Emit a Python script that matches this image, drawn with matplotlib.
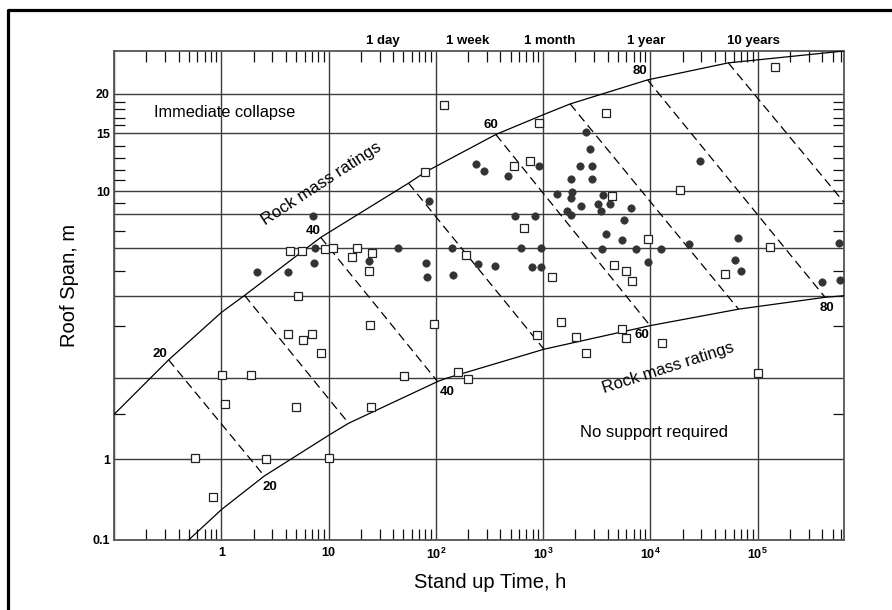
import numpy as np
import matplotlib
matplotlib.use("Agg")
import matplotlib.pyplot as plt
from matplotlib.ticker import FixedLocator, FixedFormatter, LogLocator, NullFormatter
from matplotlib.lines import Line2D

plt.rcParams['font.family'] = ['Liberation Sans', 'DejaVu Sans']
plt.rcParams['mathtext.fontset'] = 'custom'
plt.rcParams['mathtext.rm'] = 'Liberation Sans'
plt.rcParams['mathtext.bf'] = 'Liberation Sans:bold'
plt.rcParams['mathtext.default'] = 'regular'

# ---------------- data (stand-up time in hours, roof span in m) ----------------
circle_time = [2.14, 4.21, 7.16, 7.52, 7.4, 24.1, 44.3, 85.9, 81.4, 83.1, 143, 144, 236, 280, 249,
               354, 476, 910, 552, 850, 621, 960, 788, 960, 2510, 2750, 2220, 2870, 1820, 2870,
               1360, 1870, 1840, 2280, 1680, 1830, 3260, 3660, 3480, 4250, 6580, 5700, 3850, 5500,
               3550, 7380, 9580, 12500, 23100, 29100, 65500, 61700, 69700, 396000, 575000, 590000]
circle_span = [4.94, 4.94, 7.89, 6.02, 5.32, 5.40, 6.04, 9.18, 5.32, 4.74, 6.04, 4.81, 12.5, 11.9, 5.28,
               5.22, 11.4, 12.3, 7.89, 7.89, 6.02, 6.04, 5.15, 5.15, 15.1, 13.7, 12.3, 12.3, 11.1, 11.1,
               9.76, 9.91, 9.36, 8.73, 8.27, 7.96, 8.86, 9.67, 8.25, 8.91, 8.55, 7.66, 6.78, 6.47,
               5.99, 5.97, 5.38, 5.95, 6.22, 12.7, 6.59, 5.46, 5.00, 4.51, 6.27, 4.62]

square_time = [0.566, 0.830, 1.01, 1.90, 1.085, 2.63, 4.23, 7.00, 5.84, 8.46, 4.97, 4.42, 5.72, 9.26, 10,
               5.25, 11.1, 16.7, 18.6, 25.7, 23.8, 24.4, 24.8, 51.0, 80.2, 119, 96.6, 162, 201, 192,
               541, 753, 916, 659, 1220, 871, 1460, 2010, 2500, 3870, 4420, 4600, 5990, 6730, 5500,
               5990, 9600, 12800, 18800, 50100, 132000, 101000, 146000]
square_span = [1.01, 0.335, 2.05, 2.05, 1.62, 0.994, 2.82, 2.82, 2.69, 2.42, 1.58, 5.88, 5.88, 5.98, 1.01,
               3.98, 6, 5.58, 6, 5.79, 5, 3.03, 1.58, 2.03, 11.8, 18.6, 3.05, 2.09, 1.98, 5.69,
               12.3, 12.7, 16.3, 7.14, 4.73, 2.79, 3.13, 2.75, 2.42, 17.6, 9.54, 5.23, 5, 4.56, 2.94,
               2.74, 6.51, 2.62, 10.1, 4.85, 6.05, 2.08, 24.7]

# boundary curves
upper_time = [0.101, 0.323, 1, 1.65, 8.46, 55.7, 80.2, 363, 1010, 1790, 9440, 53400, 640000]
upper_span = [1.5, 2.3, 3.41, 4.01, 6.6, 10.7, 11.8, 14.9, 17.4, 18.7, 22.3, 25.5, 28]
lower_time = [0.496, 1.01, 2.52, 10.4, 15.4, 104, 125, 1020, 9960, 66500, 426000, 640000]
lower_span = [0.1, 0.239, 0.617, 1.25, 1.38, 1.94, 1.99, 2.5, 3.01, 3.52, 3.94, 4.0]

# RMR iso-lines (dashed): start on upper curve, end on lower curve
rmr = [20, 30, 40, 50, 60, 70, 80, 90]
rmr_upper_time = [0.323, 1.65, 8.46, 55.7, 363, 1790, 9440, 53400]
rmr_upper_span = [2.3, 4.01, 6.6, 10.7, 14.9, 18.7, 22.3, 25.5]
rmr_lower_time = [2.52, 15.4, 104, 1020, 9960, 66500, 426000, 640000]
rmr_lower_span = [0.617, 1.38, 1.94, 2.5, 3.01, 3.52, 3.94, 9.03]

x_major = [0.1, 1, 10, 1e2, 1e3, 1e4, 1e5]
x_major_labels = ['', '1', '10', '10$^2$', '10$^3$', '10$^4$', '10$^5$']
y_grid = [0.1, 1, 2, 4, 6, 8, 10, 15, 20]
y_grid_labels = ['0.1', '1', '', '', '', '', '10', '15', '20']
y_minor = [1.5, 3, 5, 7, 9, 11, 12, 13, 14, 16, 17, 18, 19]
time_labels = ['1 day', '1 week', '1 month', '1 year', '10 years']

# ---------------- axis scale of the original chart (value -> relative height) ----------------
scale_vals = [0.1, 1, 1.5, 2, 3, 4, 5, 6, 7, 8, 9, 10, 11, 12, 13, 14, 15, 16, 17, 18, 19, 20, 28]
scale_pos = [0, 81, 126, 162.3, 214, 244.3, 269, 291.7, 309.3, 325.7, 337.3, 349, 360, 370, 382.3,
             394.3, 406.7, 415, 421.7, 430.7, 438.3, 446.3, 489]
_lv = np.log10(scale_vals)
_sp = np.array(scale_pos, float)

def fwd(y):
    y = np.asarray(y, float)
    ly = np.log10(np.where(y > 0, y, 1e-9))
    return np.interp(ly, _lv, _sp)

def inv(p):
    return 10 ** np.interp(np.asarray(p, float), _sp, _lv)

# ---------------- figure ----------------
W, H = 892, 610
fig = plt.figure(figsize=(W / 100, H / 100), dpi=100)
L, R, T, B = 114, 844, 51, 540
ax = fig.add_axes([L / W, 1 - B / H, (R - L) / W, (B - T) / H])

ax.set_xscale('log')
ax.set_yscale('function', functions=(fwd, inv))
ax.set_xlim(0.1, 6.4e5)
ax.set_ylim(0.1, 28)

gridc = '#3c3c3c'
ax.xaxis.set_major_locator(FixedLocator(x_major))
ax.xaxis.set_major_formatter(FixedFormatter(x_major_labels))
ax.xaxis.set_minor_locator(LogLocator(base=10, subs=np.arange(2, 10)))
ax.xaxis.set_minor_formatter(NullFormatter())
ax.yaxis.set_major_locator(FixedLocator(y_grid))
ax.yaxis.set_major_formatter(FixedFormatter(y_grid_labels))
ax.yaxis.set_minor_locator(FixedLocator(y_minor))
ax.yaxis.set_minor_formatter(NullFormatter())
ax.grid(True, which='major', color=gridc, lw=1.0)
ax.set_axisbelow(True)
ax.tick_params(which='major', length=0, labelsize=9, pad=5)
ax.tick_params(axis='y', which='major', pad=3)
ax.tick_params(which='minor', direction='in', length=7.7, width=0.9, color='#111111',
               top=True, right=True, bottom=True, left=True)
for lab in ax.get_xticklabels() + ax.get_yticklabels():
    lab.set_fontweight('bold')
for s in ax.spines.values():
    s.set_color('#555555')
    s.set_linewidth(1.3)

# boundary curves
ax.plot(upper_time, upper_span, color='black', lw=0.9, zorder=3)
ax.plot(lower_time, lower_span, color='black', lw=0.9, zorder=3)
for i in range(len(rmr)):
    ax.plot([rmr_upper_time[i], rmr_lower_time[i]], [rmr_upper_span[i], rmr_lower_span[i]],
            color='black', lw=0.9, ls=(0, (7, 4)), zorder=3)

# data
ax.plot(circle_time, circle_span, ls='none', marker='o', ms=5.3, mfc='#333333', mec='#333333',
        mew=0.5, zorder=5)
ax.plot(square_time, square_span, ls='none', marker='s', ms=6.3, mfc='white', mec='#222222',
        mew=0.9, zorder=6)

def fx(px):
    return (px - L) / (R - L)

def fy(py):
    return (B - py) / (B - T)

ta = dict(transform=ax.transAxes, ha='center', va='center')
# top time labels
for lab, px in zip(time_labels, [383, 468, 550, 646, 753.5]):
    ax.text(fx(px), fy(41), lab, fontsize=9.5, fontweight='bold', clip_on=False, **ta)

# RMR number labels on curves
for lab, (px, py) in zip(['20', '40', '60', '80'], [(160, 354), (313.3, 231), (491, 125), (640.3, 71.3)]):
    ax.text(fx(px), fy(py), lab, fontsize=9.5, fontweight='bold', zorder=7, **ta)
for lab, (px, py) in zip(['20', '40', '60', '80'], [(270, 486.7), (446.7, 391.7), (642, 335), (826.7, 308.3)]):
    ax.text(fx(px), fy(py), lab, fontsize=9.5, fontweight='bold', zorder=7, **ta)

ax.text(fx(154), fy(112.3), 'Immediate collapse', fontsize=11.8, transform=ax.transAxes,
        ha='left', va='center')
ax.text(fx(653.7), fy(432.3), 'No support required', fontsize=12, **ta)
ax.text(fx(321.7), fy(184), 'Rock mass ratings', fontsize=12.2, rotation=33,
        rotation_mode='anchor', **ta)
ax.text(fx(668), fy(367.5), 'Rock mass ratings', fontsize=12, rotation=17.7,
        rotation_mode='anchor', **ta)

fig.text(490 / W, 1 - 582.5 / H, 'Stand up Time, h', fontsize=14.5, ha='center', va='center')
fig.text(69.2 / W, 1 - 285 / H, 'Roof Span, m', fontsize=14.5, ha='center', va='center', rotation=90)

# outer frame (top and left visible)
fig.add_artist(Line2D([8 / W, 8 / W, 1.01], [-0.01, 1 - 9.7 / H, 1 - 9.7 / H],
                      transform=fig.transFigure, color='black', lw=2.3))

fig.savefig('out.png', dpi=100)
